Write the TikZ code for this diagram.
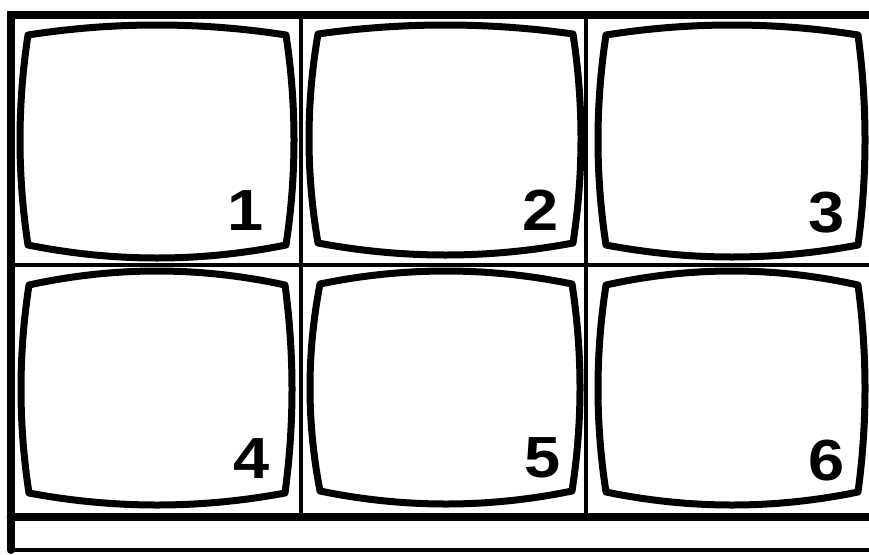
\documentclass[tikz,border=0pt]{standalone}
\usepackage{fontspec}
\setmainfont{Liberation Sans}
\tikzset{
  screen/.style={line width=7pt, line join=round, line cap=round},
  divider/.style={line width=4pt},
  heavyline/.style={line width=8pt, line cap=round},
  thinline/.style={line width=4.5pt},
  num/.style={inner sep=0pt, anchor=base east, font=\fontsize{58}{58}\selectfont\bfseries}
}
% #1 L, #2 R, #3 T, #4 B, #5 left mid, #6 right mid, #7 top mid, #8 bottom mid
\newcommand\tvscr[8]{%
  \draw[screen]
    (#1,#3) .. controls ({#1+(#2-#1)/3},{#3+4/3*(#7-#3)}) and ({#2-(#2-#1)/3},{#3+4/3*(#7-#3)}) .. (#2,#3)
    .. controls ({#2+4/3*(#6-#2)},{#3+(#4-#3)/3}) and ({#2+4/3*(#6-#2)},{#4-(#4-#3)/3}) .. (#2,#4)
    .. controls ({#2-(#2-#1)/3},{#4+4/3*(#8-#4)}) and ({#1+(#2-#1)/3},{#4+4/3*(#8-#4)}) .. (#1,#4)
    .. controls ({#1+4/3*(#5-#1)},{#4-(#4-#3)/3}) and ({#1+4/3*(#5-#1)},{#3+(#4-#3)/3}) .. cycle;%
}
\begin{document}
\begin{tikzpicture}[x=1pt,y=-1pt]
  \useasboundingbox[fill=white] (0,0) rectangle (869,554);
  % frame
  \coordinate (tl) at (10.5,15);
  \coordinate (tr) at (880,15);
  \coordinate (bl) at (10.5,550);
  \coordinate (br) at (880,550);
  \coordinate (ml) at (10.5,516.5);
  \coordinate (mr) at (880,516.5);
  \coordinate (hl) at (10.5,265);
  \coordinate (hr) at (880,265);
  \coordinate (v1t) at (301,15);
  \coordinate (v1b) at (301,516.5);
  \coordinate (v2t) at (586,15);
  \coordinate (v2b) at (586,516.5);
  \draw[divider] (hl) -- (hr);
  \draw[divider] (v1t) -- (v1b);
  \draw[divider] (v2t) -- (v2b);
  \draw[thinline] (bl) -- (br);
  \draw[heavyline] (ml) -- (mr);
  \draw[heavyline] (bl) -- (tl) -- (tr);
  % screens row 1
  \tvscr{28}{286}{35}{245}{20}{294}{25}{258}
  \tvscr{318}{573}{34}{243}{309}{581}{25}{255}
  \tvscr{606}{858}{35}{245}{598}{865}{25}{257}
  % screens row 2
  \tvscr{29}{285}{285}{493}{21}{292}{271}{505}
  \tvscr{320}{572}{284}{491}{310}{580}{271}{504}
  \tvscr{606}{858}{285}{492}{598}{865}{271}{505}
  % numbers
  \node[num] (n1) at (264,230) {\scalebox{1.12}[1]{1}};
  \node[num] (n2) at (559,230) {\scalebox{1.12}[1]{2}};
  \node[num] (n3) at (845,232) {\scalebox{1.12}[1]{3}};
  \node[num] (n4) at (270,478) {\scalebox{1.12}[1]{4}};
  \node[num] (n5) at (561,477) {\scalebox{1.12}[1]{5}};
  \node[num] (n6) at (845,480) {\scalebox{1.12}[1]{6}};
\end{tikzpicture}
\end{document}
